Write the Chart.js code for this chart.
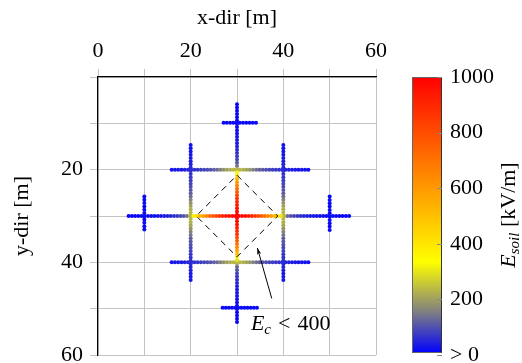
<!DOCTYPE html>
<html lang="en">
<head>
<meta charset="UTF-8">
<title>Soil field around grounding grid</title>
<script src="https://cdn.jsdelivr.net/npm/chart.js"></script>
<style>
  body { margin: 0; background: #fff; }
  #wrap { width: 522px; height: 363px; }
</style>
</head>
<body>
<div id="wrap"><canvas id="chart" width="522" height="363"></canvas></div>
<script>
// conductor segments in metres, the dots sit along these
const segX1 = [6.6, 30, 15.9, 15.9, 20, 40, 27.1, 26.9, 10, 50];
const segY1 = [30, 5.9, 20, 40, 14.7, 14.7, 9.9, 49.8, 25.8, 25.8];
const segX2 = [54.2, 30, 45.4, 45.4, 20, 40, 34.1, 34.3, 10, 50];
const segY2 = [30, 52.9, 20, 40, 43.8, 43.8, 9.9, 49.8, 32.9, 33.0];
const dotStep = 0.7;

const fieldDist = [0, 2, 4, 6, 8, 9, 10, 10.5, 11, 12, 13, 14, 16, 18, 20, 25, 40];
const fieldE = [1000, 950, 850, 700, 520, 370, 230, 160, 115, 85, 65, 50, 30, 20, 12, 6, 3];
const centreX = 30, centreY = 30;

// dashed region where E_c < 400
const diamondX = [30, 38.8, 30, 21.2, 30];
const diamondY = [21.2, 30, 38.8, 30, 21.2];

// axis ticks
const xLabels = [0, 20, 40, 60];
const yLabels = [20, 40, 60];
const cbTicks = [0, 200, 400, 600, 800, 1000];

// colour map (blue -> gray -> yellow -> red)
const cmapStops = [0, 0.15, 0.33, 1];
const cmapRGB = [[0, 0, 255], [128, 128, 128], [255, 255, 0], [255, 0, 0]];

const FONT = '"Liberation Serif", "Times New Roman", serif';
const FS = 22;
const font = { family: FONT, size: FS };

function rgb(c) { return 'rgb(' + c.map(Math.round).join(',') + ')'; }

function cmap(v) {
    let t = Math.max(0, Math.min(1, v / 1000));
    for (let i = 1; i < cmapStops.length; i++) {
        if (t <= cmapStops[i]) {
            const f = (t - cmapStops[i - 1]) / (cmapStops[i] - cmapStops[i - 1]);
            const a = cmapRGB[i - 1], b = cmapRGB[i];
            return rgb([0, 1, 2].map(k => a[k] + (b[k] - a[k]) * f));
        }
    }
    return rgb(cmapRGB[cmapRGB.length - 1]);
}

function fieldAt(d) {
    for (let i = 1; i < fieldDist.length; i++) {
        if (d <= fieldDist[i]) {
            const f = (d - fieldDist[i - 1]) / (fieldDist[i] - fieldDist[i - 1]);
            return fieldE[i - 1] + (fieldE[i] - fieldE[i - 1]) * f;
        }
    }
    return fieldE[fieldE.length - 1];
}

// dots along each conductor
let dots = [];
for (let s = 0; s < segX1.length; s++) {
    const len = Math.hypot(segX2[s] - segX1[s], segY2[s] - segY1[s]);
    const n = Math.max(1, Math.round(len / dotStep));
    for (let i = 0; i <= n; i++) {
        const x = segX1[s] + (segX2[s] - segX1[s]) * i / n;
        const y = segY1[s] + (segY2[s] - segY1[s]) * i / n;
        dots.push({ x: x, y: y, e: fieldAt(Math.hypot(x - centreX, y - centreY)) });
    }
}
dots.sort((a, b) => a.e - b.e); // hot spots on top

const diamond = diamondX.map((x, i) => ({ x: x, y: diamondY[i] }));

function noPad(s) { s.paddingTop = 0; s.paddingBottom = 0; s.paddingLeft = 0; s.paddingRight = 0; }

// colour bar, its title and the E_c annotation
const extras = {
    id: 'extras',
    afterDraw(chart) {
        const c = chart.ctx;
        const cb = chart.scales.cb;
        const top = cb.getPixelForValue(1000);
        const bot = cb.getPixelForValue(0) - 2;
        const left = cb.left + 36, w = 30;
        const g = c.createLinearGradient(0, bot, 0, top);
        cmapStops.forEach((p, i) => g.addColorStop(p, rgb(cmapRGB[i])));
        c.save();
        c.fillStyle = g;
        c.fillRect(left, top, w, bot - top);
        c.strokeStyle = '#666';
        c.lineWidth = 1;
        c.strokeRect(left + 0.5, top + 0.5, w - 1, bot - top - 1);
        c.strokeStyle = '#333';
        c.beginPath();
        c.moveTo(left + w - 0.5, top); c.lineTo(left + w - 0.5, bot);
        c.stroke();
        c.strokeStyle = '#888';
        cbTicks.forEach(v => {
            const y = Math.round(cb.getPixelForValue(v)) + 0.5;
            c.beginPath(); c.moveTo(left + w - 5, y); c.lineTo(left + w, y); c.stroke();
        });

        // colour bar title, rotated
        c.translate(cb.left + 133, (top + bot) / 2);
        c.rotate(-Math.PI / 2);
        c.fillStyle = '#000';
        c.textBaseline = 'alphabetic';
        const parts = [
            { t: 'E', f: 'italic ' + FS + 'px ' + FONT, dy: 0 },
            { t: 'soil', f: 'italic 15px ' + FONT, dy: 4 },
            { t: ' [kV/m]', f: FS + 'px ' + FONT, dy: 0 }
        ];
        let total = 0;
        parts.forEach(p => { c.font = p.f; p.w = c.measureText(p.t).width; total += p.w; });
        let x = -total / 2;
        parts.forEach(p => { c.font = p.f; c.fillText(p.t, x, 6 + p.dy); x += p.w; });
        c.restore();

        // E_c < 400 with arrow
        const sx = chart.scales.x, sy = chart.scales.y;
        const tx = sx.getPixelForValue(37.5), ty = sy.getPixelForValue(47.8);
        const hx = sx.getPixelForValue(34.4), hy = sy.getPixelForValue(36.9);
        c.save();
        c.strokeStyle = '#000';
        c.fillStyle = '#000';
        c.lineWidth = 1;
        c.beginPath(); c.moveTo(tx, ty); c.lineTo(hx, hy); c.stroke();
        const ang = Math.atan2(hy - ty, hx - tx);
        c.beginPath();
        c.moveTo(hx, hy);
        c.lineTo(hx - 7 * Math.cos(ang - 0.3), hy - 7 * Math.sin(ang - 0.3));
        c.lineTo(hx - 5 * Math.cos(ang), hy - 5 * Math.sin(ang));
        c.lineTo(hx - 7 * Math.cos(ang + 0.3), hy - 7 * Math.sin(ang + 0.3));
        c.closePath(); c.fill();

        let ax = sx.getPixelForValue(33.0), ay = sy.getPixelForValue(54.7);
        c.textBaseline = 'alphabetic';
        c.font = 'italic ' + FS + 'px ' + FONT;
        c.fillText('E', ax, ay); ax += c.measureText('E').width;
        c.font = 'italic 15px ' + FONT;
        c.fillText('c', ax, ay + 4); ax += c.measureText('c').width + 7;
        c.font = FS + 'px ' + FONT;
        c.fillText('<', ax, ay); ax += c.measureText('<').width + 7;
        c.fillText('400', ax, ay);
        c.restore();
    }
};

new Chart(document.getElementById('chart'), {
    type: 'scatter',
    data: {
        datasets: [
            {
                data: diamond,
                showLine: true,
                borderColor: '#000',
                borderWidth: 1,
                borderDash: [6, 5],
                pointRadius: 0,
                order: 0
            },
            {
                data: dots,
                pointRadius: 2,
                pointBorderWidth: 0,
                pointBackgroundColor: dots.map(d => cmap(d.e)),
                order: 1
            }
        ]
    },
    options: {
        responsive: false,
        animation: false,
        layout: { padding: { left: 0, right: 0, top: 0, bottom: 8 }, autoPadding: false },
        plugins: { legend: { display: false }, tooltip: { enabled: false } },
        scales: {
            x: {
                type: 'linear', position: 'top', min: 0, max: 60,
                ticks: {
                    stepSize: 10, padding: 5, color: '#000', font: font, maxRotation: 0, autoSkip: false,
                    callback: v => xLabels.includes(v) ? String(v) : ''
                },
                grid: { color: '#c4c4c4', tickLength: 8, lineWidth: 1 },
                border: { color: '#000', width: 1.2 },
                title: { display: true, text: 'x-dir [m]', color: '#000', font: font, padding: { top: 5, bottom: 0 } },
                afterFit: s => { s.height = 77; noPad(s); }
            },
            y: {
                type: 'linear', position: 'left', reverse: true, min: 0, max: 60,
                ticks: {
                    stepSize: 10, padding: 7, color: '#000', font: font, autoSkip: false,
                    callback: v => yLabels.includes(v) ? String(v) : ''
                },
                grid: { color: '#c4c4c4', tickLength: 8, lineWidth: 1 },
                border: { color: '#000', width: 1.2 },
                title: { display: true, text: 'y-dir [m]', color: '#000', font: font, padding: { top: 9, bottom: 0 } },
                afterFit: s => { s.width = 98; noPad(s); }
            },
            cb: {
                type: 'linear', axis: 'y', position: 'right', min: 0, max: 1000,
                ticks: {
                    stepSize: 200, padding: 66, color: '#000', font: font,
                    callback: v => v === 0 ? '> 0' : String(v)
                },
                grid: { display: false },
                border: { display: false },
                afterFit: s => { s.width = 146; noPad(s); }
            }
        }
    },
    plugins: [extras]
});
</script>
</body>
</html>
